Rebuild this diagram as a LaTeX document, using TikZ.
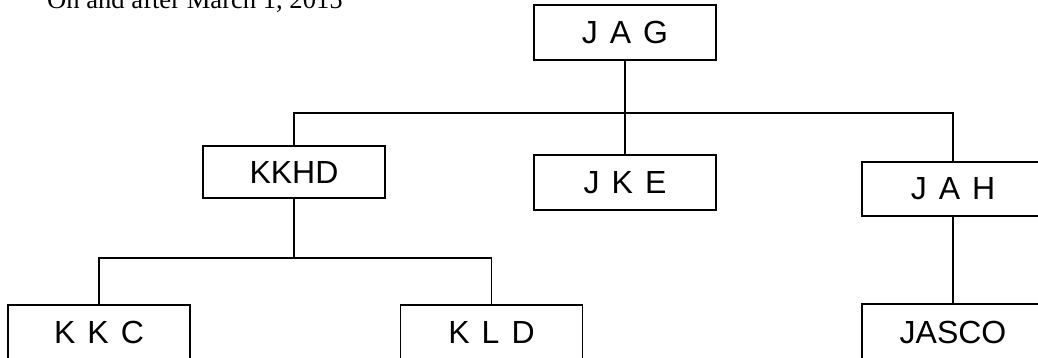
\documentclass[tikz,border=0pt]{standalone}
\usepackage{fontspec}
\newfontfamily\boxfont{Liberation Sans}
\newfontfamily\titlefont{Liberation Serif}
\begin{document}
\begin{tikzpicture}[x=1pt,y=-1pt,
  orgbox/.style={draw=black, line width=1.4pt, fill=white, inner sep=0pt,
    minimum width=182pt, minimum height=55pt,
    font={\boxfont\fontsize{32}{38}\selectfont\spaceskip=12pt\relax}},
  link/.style={draw=black, line width=1.4pt}]
\useasboundingbox (0,0) rectangle (1038,358);
\clip (0,0) rectangle (1038,358);
\node[anchor=base west, inner sep=0pt, font={\titlefont\fontsize{26.6}{30}\selectfont}] (title) at (47,8.5) {On and after March 1, 2015};
\node[orgbox] (JAG) at (625,32.5) {J A G};
\node[orgbox] (JKE) at (625,182.5) {J K E};
\node[orgbox, minimum height=52pt] (KKHD) at (294,172) {KKHD};
\node[orgbox, minimum height=54pt] (JAH) at (953,189) {J A H};
\node[orgbox] (KKC) at (99,332.5) {K K C};
\node[orgbox] (KLD) at (491.5,332.5) {K L D};
\node[orgbox, minimum height=56pt] (JASCO) at (953,332) {JASCO};
\coordinate (barA) at (625,113);
\coordinate (barB) at (294,258);
\draw[link] (JAG.south) -- (JKE.north);
\draw[link] (KKHD.north) |- (barA) -| (JAH.north);
\draw[link] (KKHD.south) -- (barB);
\draw[link] (KKC.north) |- (barB) -| (KLD.north);
\draw[link] (JAH.south) -- (JASCO.north);
\end{tikzpicture}
\end{document}
